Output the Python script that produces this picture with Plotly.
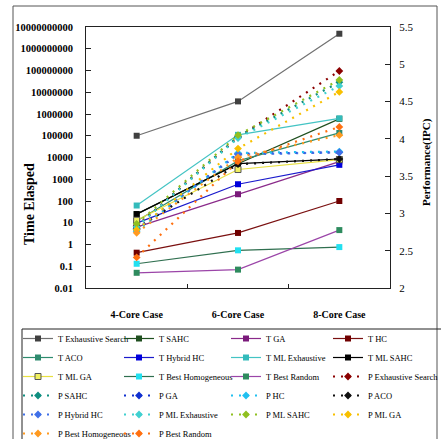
import plotly.graph_objects as go

W, H = 441, 439
ML, MR, MT, MB = 86, 51, 27, 151
PW, PH = W - ML - MR, H - MT - MB

def px(x):
    return (x - ML) / PW

def py(y):
    return (H - MB - y) / PH

categories = ["4-Core Case", "6-Core Case", "8-Core Case"]

# Time series (left log axis)
t_names = ["T Exhaustive Search", "T SAHC", "T GA", "T HC",
           "T ACO", "T Hybrid HC", "T ML Exhaustive", "T ML SAHC",
           "T ML GA", "T Best Homogeneous", "T Best Random"]
t_exhaustive = [100000, 3800000, 4900000000]
t_sahc = [25, 5200, 600000]
t_ga = [6.3, 205, 6500]
t_hc = [0.42, 3.4, 100]
t_aco = [12, 7000, 135000]
t_hybrid = [9.6, 590, 4600]
t_ml_exh = [62, 110000, 630000]
t_ml_sahc = [25, 5200, 8500]
t_ml_ga = [13, 2800, 8000]
t_best_homo = [0.13, 0.54, 0.76]
t_best_rand = [0.05, 0.07, 4.6]
t_values = [t_exhaustive, t_sahc, t_ga, t_hc, t_aco, t_hybrid,
            t_ml_exh, t_ml_sahc, t_ml_ga, t_best_homo, t_best_rand]

# Performance series (right axis, IPC)
p_names = ["P Exhaustive Search", "P SAHC", "P GA", "P HC",
           "P ACO", "P Hybrid HC", "P ML Exhaustive", "P ML SAHC",
           "P ML GA", "P Best Homogeneous", "P Best Random"]
p_exhaustive = [2.83, 4.02, 4.91]
p_sahc = [2.82, 4.03, 4.76]
p_ga = [2.78, 3.80, 3.82]
p_hc = [2.76, 3.81, 3.83]
p_aco = [2.80, 3.66, 3.73]
p_hybrid = [2.79, 3.79, 3.82]
p_ml_exh = [2.82, 4.01, 4.71]
p_ml_sahc = [2.86, 4.05, 4.79]
p_ml_ga = [2.78, 3.87, 4.63]
p_best_homo = [2.74, 3.75, 4.05]
p_best_rand = [2.41, 3.70, 4.16]
p_values = [p_exhaustive, p_sahc, p_ga, p_hc, p_aco, p_hybrid,
            p_ml_exh, p_ml_sahc, p_ml_ga, p_best_homo, p_best_rand]

left_ticks = [10.0 ** k for k in range(-2, 11)]
left_ticktext = ["0.01", "0.1", "1", "10", "100", "1000", "10000", "100000",
                 "1000000", "10000000", "100000000", "1000000000", "10000000000"]
right_ticks = [2, 2.5, 3, 3.5, 4, 4.5, 5, 5.5]
right_ticktext = ["2", "2.5", "3", "3.5", "4", "4.5", "5", "5.5"]

t_line_colors = ["#707070", "#1f4f1f", "#8a2a8a", "#7a1010", "#2e8b6e", "#1a1acc",
                 "#44c4c4", "#000000", "#e8e040", "#2f6f4f", "#9b45a8"]
t_marker_colors = ["#404040", "#1f4f1f", "#7a1a7a", "#700000", "#2e8b6e", "#0000dd",
                   "#33bbbb", "#000000", "#f0f060", "#22e0f0", "#2e8b5e"]
p_colors = ["#8b0000", "#0f8f80", "#1030d0", "#20c0f0", "#101010", "#4070e8",
            "#40d0d0", "#90c020", "#f8c000", "#ff9a20", "#ff7010"]

legend_ids = ["legend", "legend2", "legend3", "legend4"]

fig = go.Figure()
k = 0
for name, vals, lc, mc in zip(t_names, t_values, t_line_colors, t_marker_colors):
    mline = dict(width=1, color="#555") if name == "T ML GA" else dict(width=0)
    fig.add_trace(go.Scatter(
        x=categories, y=vals, name=name, mode="lines+markers",
        line=dict(color=lc, width=1.2),
        marker=dict(symbol="square", size=6, color=mc, line=mline),
        yaxis="y", legend=legend_ids[k % 4]))
    k += 1
for name, vals, c in zip(p_names, p_values, p_colors):
    fig.add_trace(go.Scatter(
        x=categories, y=vals, name=name, mode="lines+markers",
        line=dict(color=c, width=2.2, dash="2px,6px"),
        marker=dict(symbol="diamond", size=6, color=c),
        yaxis="y2", legend=legend_ids[k % 4]))
    k += 1

serif = "Liberation Serif"
tick_font = dict(family=serif, size=10.5, color="black", weight="bold")

legend_left = [18, 119, 226, 328]
legend_common = dict(orientation="v", xanchor="left", yref="container",
                     y=1 - 324 / H, yanchor="top",
                     font=dict(family=serif, size=8.5, color="black"),
                     bgcolor="rgba(0,0,0,0)", borderwidth=0, itemwidth=30,
                     tracegroupgap=0, traceorder="normal")

layout_legends = {}
for lid, lx in zip(legend_ids, legend_left):
    layout_legends[lid] = dict(legend_common, x=px(lx))

fig.update_layout(
    width=W, height=H,
    margin=dict(l=ML, r=MR, t=MT, b=MB, autoexpand=False),
    paper_bgcolor="white", plot_bgcolor="white",
    showlegend=True,
    xaxis=dict(type="category", categoryorder="array", categoryarray=categories,
               range=[-0.5, 2.5], showline=True, linecolor="#222", linewidth=1,
               mirror=True, ticks="inside", tickson="boundaries", ticklen=4,
               tickcolor="#222", showgrid=False, zeroline=False, automargin=False,
               tickfont=dict(family=serif, size=10, color="black", weight="bold"),
               ticklabelstandoff=17),
    yaxis=dict(type="log", range=[-2, 10], tickvals=left_ticks, ticktext=left_ticktext,
               showline=True, linecolor="#222", linewidth=1, ticks="inside", ticklen=5,
               tickcolor="#222", showgrid=False, zeroline=False, tickfont=tick_font,
               ticklabelstandoff=10, automargin=False),
    yaxis2=dict(overlaying="y", side="right", range=[2, 5.5], tickvals=right_ticks,
                ticktext=right_ticktext, showline=True, linecolor="#222", linewidth=1,
                ticks="inside", ticklen=5, tickcolor="#222", showgrid=False,
                zeroline=False, tickfont=dict(family=serif, size=11, color="black"),
                ticklabelstandoff=6, automargin=False),
    annotations=[
        dict(text="Time Elasped", x=px(29), y=py(204), xref="paper", yref="paper",
             xanchor="center", yanchor="middle", showarrow=False, textangle=-90,
             font=dict(family=serif, size=14, color="black", weight="bold")),
        dict(text="Performance(IPC)", x=px(427), y=py(162), xref="paper", yref="paper",
             xanchor="center", yanchor="middle", showarrow=False, textangle=-90,
             font=dict(family=serif, size=11, color="black", weight="bold")),
    ],
    shapes=[
        dict(type="rect", xref="paper", yref="paper", x0=px(13), x1=px(437),
             y0=py(470), y1=py(6), line=dict(color="#555", width=1), layer="below"),
        dict(type="rect", xref="paper", yref="paper", x0=px(22), x1=px(460),
             y0=py(460), y1=py(329), line=dict(color="#222", width=1), layer="below"),
    ],
    **layout_legends,
)

fig.write_html("out.html",
               config={"displayModeBar": False},
               post_script="document.body.style.margin='0px';"
                           "document.body.style.overflow='hidden';")
